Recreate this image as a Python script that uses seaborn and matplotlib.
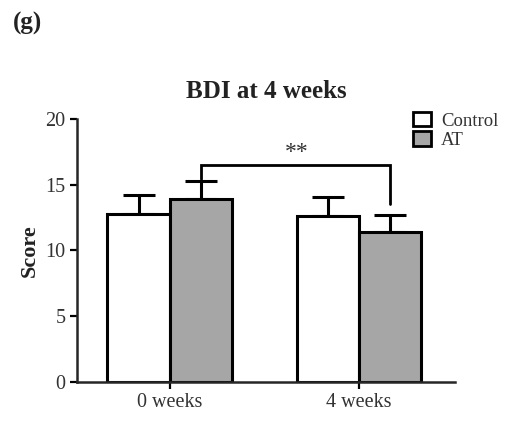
import pandas as pd
import matplotlib
matplotlib.use('Agg')
import matplotlib.pyplot as plt
import seaborn as sns

# values
times = ['0 weeks', '4 weeks']
groups = ['Control', 'AT']
control_mean = [12.8, 12.6]
control_sem = [1.4, 1.5]
at_mean = [13.9, 11.4]
at_sem = [1.4, 1.3]
sig_label = '**'

df = pd.DataFrame({
    'time': times * 2,
    'group': ['Control'] * 2 + ['AT'] * 2,
    'score': control_mean + at_mean,
    'sem': control_sem + at_sem,
})

sns.set_style('ticks')
plt.rcParams['font.family'] = ['Liberation Serif', 'DejaVu Serif']

fig = plt.figure(figsize=(5.09, 4.26), dpi=100)
ax = fig.add_axes([0.151, 0.103, 0.743, 0.618])

palette = {'Control': 'white', 'AT': '#a6a6a6'}
sns.barplot(data=df, x='time', y='score', hue='group', order=times,
            hue_order=groups, palette=palette, errorbar=None, width=0.656,
            edgecolor='black', linewidth=2.2, saturation=1, ax=ax)

# upper-only error bars, placed on the drawn bars
centres = {}
for bar, (_, row) in zip(ax.patches[:4], df.iterrows()):
    cx = bar.get_x() + bar.get_width() / 2
    centres[(row['group'], row['time'])] = cx
    ax.errorbar(cx, row['score'], yerr=[[0], [row['sem']]], fmt='none',
                ecolor='black', elinewidth=2.2, capsize=11.5, capthick=2.2,
                zorder=1)
for bar in ax.patches[:4]:
    bar.set_zorder(2)

# significance bracket between the AT bars
x1 = centres[('AT', '0 weeks')]
x2 = centres[('AT', '4 weeks')]
ytop = 16.5
ax.plot([x1, x1, x2, x2], [15.4, ytop, ytop, 13.5], color='black', lw=2.0,
        solid_joinstyle='miter', clip_on=False)
ax.text((x1 + x2) / 2 + 0.01, ytop + 0.15, sig_label, ha='center',
        va='bottom', fontsize=17, color='#333333')

ax.set_xlim(-0.49, 1.51)
ax.set_ylim(0, 20)
ax.set_yticks([0, 5, 10, 15, 20])
ax.set_xlabel('')
ax.set_ylabel('Score', fontsize=16, fontweight='bold', labelpad=4,
              color='#222222')
ax.tick_params(axis='both', labelsize=14.5, colors='black', width=1.6,
               length=5, labelcolor='#333333', pad=3)
for s in ['left', 'bottom']:
    ax.spines[s].set_linewidth(1.8)
sns.despine(ax=ax)

ax.set_title('BDI at 4 weeks', fontsize=18, fontweight='bold', pad=15,
             color='#222222')
fig.text(0.025, 0.945, '(g)', fontsize=18, fontweight='bold', ha='left',
         va='center', color='#222222')

leg = ax.legend(loc='upper left', bbox_to_anchor=(0.868, 1.055), frameon=False,
                fontsize=13.5, handlelength=1.0, handleheight=0.8,
                handletextpad=0.5, labelspacing=0.1, borderaxespad=0)
for h in leg.legend_handles:
    h.set_linewidth(2.0)
    h.set_edgecolor('black')
for t in leg.get_texts():
    t.set_color('#333333')

fig.savefig('out.png', dpi=100, facecolor='white')
